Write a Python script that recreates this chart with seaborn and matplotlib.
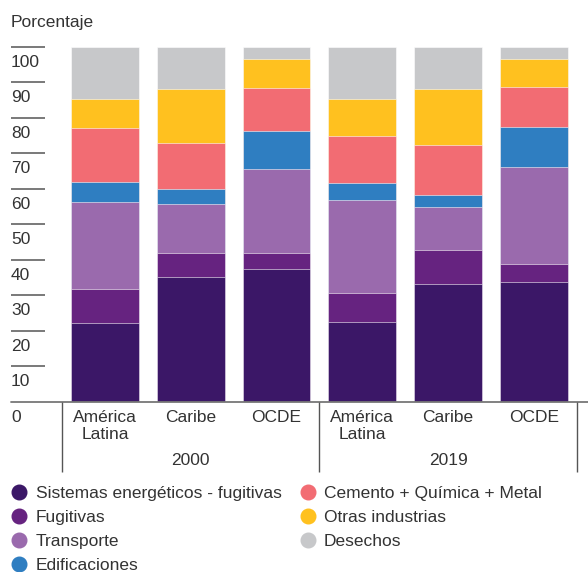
import matplotlib
matplotlib.use("Agg")
import matplotlib.pyplot as plt
from matplotlib.lines import Line2D
import pandas as pd
import seaborn as sns

# Groups and regions along the x axis
years = ["2000", "2019"]
regions = ["América\nLatina", "Caribe", "OCDE"]

# Sector names (stack order, bottom to top) and their colours
sectors = [
    "Sistemas energéticos - fugitivas",
    "Fugitivas",
    "Transporte",
    "Edificaciones",
    "Cemento + Química + Metal",
    "Otras industrias",
    "Desechos",
]
sector_colors = ["#3B1767", "#662380", "#9A6AAD", "#2F7EC1", "#F26C73", "#FFC11F", "#C7C8CA"]

# Shares (%) per bar: AL 2000, Caribe 2000, OCDE 2000, AL 2019, Caribe 2019, OCDE 2019
energia = [22.1, 35.0, 37.5, 22.4, 33.1, 33.6]
fugitivas = [9.6, 6.8, 4.3, 8.2, 9.5, 5.2]
transporte = [24.5, 13.8, 23.7, 26.3, 12.2, 27.3]
edificaciones = [5.8, 4.3, 10.7, 4.7, 3.3, 11.2]
cemento = [15.2, 12.9, 12.3, 13.3, 14.1, 11.3]
otras = [8.2, 15.4, 8.0, 10.3, 16.0, 8.0]
desechos = [14.6, 11.8, 3.5, 14.8, 11.8, 3.4]

y_ticks = [0, 10, 20, 30, 40, 50, 60, 70, 80, 90, 100]

series = [energia, fugitivas, transporte, edificaciones, cemento, otras, desechos]
bar_keys = [f"{y} {r}" for y in years for r in regions]
bar_labels = [r for y in years for r in regions]

df = pd.DataFrame({"bar": bar_keys})
running = [0.0] * len(bar_keys)
for name, vals in zip(sectors, series):
    running = [a + b for a, b in zip(running, vals)]
    df[name] = running

sns.set_theme(style="white")
TXT = "#333333"
FS = 12.5
plt.rcParams["font.family"] = ["Liberation Sans", "DejaVu Sans"]
plt.rcParams["font.size"] = FS
plt.rcParams["text.color"] = TXT

W, H = 588, 572
fig = plt.figure(figsize=(W / 100, H / 100), dpi=100)
fig.patch.set_facecolor("white")
y0_px, y100_px = 401.7, 46.7
px_per_unit = (y0_px - y100_px) / 100
ax = fig.add_axes([11 / W, 1 - y0_px / H, 577 / W, (y0_px - y100_px) / H])
ax.set_facecolor("white")


def below(px):
    """Data-y position a given number of pixels under the baseline."""
    return -px / px_per_unit


# Stacked bars: draw cumulative totals from the top layer down
for name, col in reversed(list(zip(sectors, sector_colors))):
    sns.barplot(data=df, x="bar", y=name, order=bar_keys, color=col,
                saturation=1, width=0.79, errorbar=None, ax=ax,
                edgecolor=(1, 1, 1, 0.55), linewidth=0.7)

ax.set_xlim(-1.096, 5.63)
ax.set_ylim(0, 100)
ax.set_xlabel("")
ax.set_ylabel("")
ax.set_yticks([])
ax.set_xticks([])
sns.despine(ax=ax, left=True, bottom=True, top=True, right=True)

# Region labels under each bar, one text per line
for i, lab in enumerate(bar_labels):
    for j, line in enumerate(lab.split("\n")):
        ax.text(i, below(20.3 + 17 * j), line, ha="center", va="baseline",
                color=TXT, fontsize=FS)

# Short tick rules with labels beneath
ytr = ax.get_yaxis_transform()
ax.hlines(y_ticks[1:], 0, 34 / 577, transform=ytr, color="#6E6E6E", lw=1.3, clip_on=False)
for v in y_ticks:
    ax.text(0.0, v + below(20), str(v), transform=ytr, ha="left", va="baseline",
            color=TXT, fontsize=FS)

# Baseline and group separators
ax.axhline(0, color="#777777", lw=1.3, clip_on=False)
ax.vlines([-0.5, 2.5, 5.5], below(70), 0, color="#555555", lw=1.0, clip_on=False)
for i, yr in enumerate(years):
    ax.text(1 + 3 * i, below(63.3), yr, ha="center", va="baseline", color=TXT, fontsize=FS)

fig.text(11 / W, 1 - 26.7 / H, "Porcentaje", ha="left", va="baseline", color=TXT, fontsize=FS)

handles = [Line2D([], [], marker="o", linestyle="none", markersize=10.5,
                  markerfacecolor=c, markeredgecolor=c) for c in sector_colors]
fig.legend(handles, sectors, ncol=2, loc="upper left",
           bbox_to_anchor=(10.5 / W, 1 - 486 / H), frameon=False,
           borderpad=0, borderaxespad=0, handlelength=1.0, handletextpad=0.45,
           columnspacing=1.0, labelspacing=0.5, fontsize=FS, labelcolor=TXT)

fig.savefig("out.png", dpi=100, facecolor="white")
